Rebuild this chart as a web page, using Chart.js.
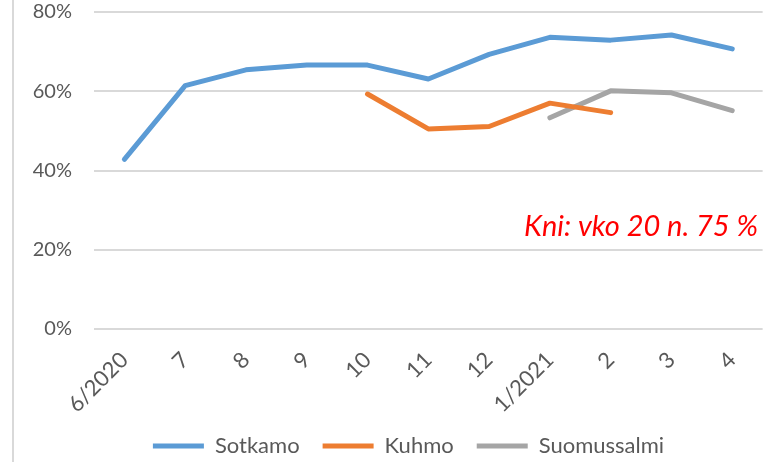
<!DOCTYPE html>
<html>
<head>
<meta charset="utf-8">
<script src="https://cdn.jsdelivr.net/npm/chart.js@4.4.1/dist/chart.umd.min.js"></script>
<style>
  html, body { margin: 0; padding: 0; background: #fff; }
</style>
</head>
<body>
<canvas id="kuntaChart" width="769" height="462"></canvas>
<script>
// Categories (months) and series values (%)
const months = ['6/2020', '7', '8', '9', '10', '11', '12', '1/2021', '2', '3', '4'];
const sotkamo = [42.8, 61.4, 65.4, 66.6, 66.6, 63.1, 69.3, 73.6, 72.9, 74.2, 70.7];
const kuhmo = [null, null, null, null, 59.3, 50.5, 51.1, 57.0, 54.6, null, null];
const suomussalmi = [null, null, null, null, null, null, null, 53.3, 60.1, 59.6, 55.1];
const yTicks = [0, 20, 40, 60, 80];
const note = 'Kni: vko 20 n. 75 %';

const textColor = '#595959';
const gridColor = '#d9d9d9';

// Frame line on the left, legend placement and the red note
const extras = {
  id: 'extras',
  beforeLayout(chart) {
    const lg = chart.legend;
    if (lg && !lg._slim) {
      const fit = lg.fit;
      lg.fit = function () { fit.call(this); this.height = 43; };
      lg._slim = true;
    }
  },
  afterLayout(chart) {
    const lg = chart.legend;
    lg.left += 25; lg.right += 25;
    lg.top = 412; lg.bottom = 412 + lg.height;
  },
  beforeDraw(chart) {
    const ctx = chart.ctx;
    ctx.save();
    ctx.strokeStyle = gridColor;
    ctx.lineWidth = 2;
    ctx.beginPath();
    ctx.moveTo(13, 0);
    ctx.lineTo(13, chart.height);
    ctx.stroke();
    ctx.restore();
  },
  afterDraw(chart) {
    const ctx = chart.ctx;
    ctx.save();
    ctx.fillStyle = '#ff0000';
    ctx.font = 'italic 29px Lato';
    ctx.textAlign = 'right';
    ctx.textBaseline = 'alphabetic';
    ctx.fillText(note, 758, 236, 238);
    ctx.restore();
  }
};

function series(label, data, color) {
  return {
    label: label,
    data: data,
    borderColor: color,
    backgroundColor: color,
    borderWidth: 5,
    borderCapStyle: 'round',
    borderJoinStyle: 'round',
    pointRadius: 0,
    pointHoverRadius: 0,
    tension: 0,
    spanGaps: false
  };
}

new Chart(document.getElementById('kuntaChart'), {
  type: 'line',
  data: {
    labels: months,
    datasets: [
      series('Sotkamo', sotkamo, '#5b9bd5'),
      series('Kuhmo', kuhmo, '#ed7d31'),
      series('Suomussalmi', suomussalmi, '#a5a5a5')
    ]
  },
  options: {
    responsive: false,
    animation: false,
    layout: { padding: { top: 12, right: 2, left: 0, bottom: 0 } },
    plugins: {
      tooltip: { enabled: false },
      legend: {
        position: 'bottom',
        labels: {
          usePointStyle: true,
          pointStyle: 'line',
          pointStyleWidth: 51,
          boxHeight: 6,
          padding: 23,
          color: textColor,
          font: { family: 'Lato', size: 22 }
        }
      }
    },
    scales: {
      x: {
        offset: true,
        grid: { display: false, drawTicks: false },
        border: { display: false },
        ticks: {
          color: textColor,
          font: { family: 'Lato', size: 22 },
          minRotation: 45,
          maxRotation: 45,
          padding: 18
        },
        afterFit(scale) { scale.height = 90; }
      },
      y: {
        min: 0,
        max: 80,
        afterBuildTicks(scale) { scale.ticks = yTicks.map(v => ({ value: v })); },
        grid: { color: gridColor, lineWidth: 2, drawTicks: false },
        border: { display: false },
        ticks: {
          color: textColor,
          font: { family: 'Lato', size: 20 },
          padding: 22,
          callback: v => v + '%'
        },
        afterFit(scale) {
          scale.width = 94;
          scale.paddingTop = 12;
          scale.paddingBottom = 12;
        }
      }
    }
  },
  plugins: [extras]
});
</script>
</body>
</html>
